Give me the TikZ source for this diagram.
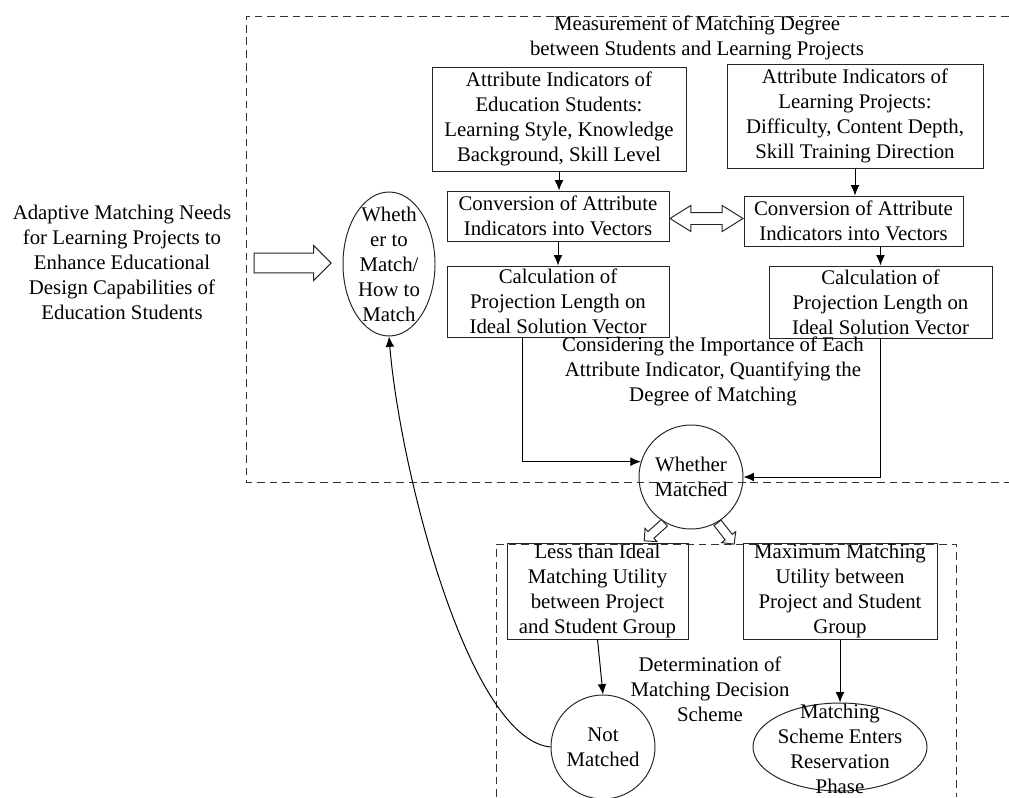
\documentclass[tikz,border=0pt]{standalone}
\usepackage{fontspec}
\setmainfont{Liberation Serif}
\usetikzlibrary{arrows.meta, calc, shapes.geometric, shapes.arrows}
\tikzset{
  txt/.style={font=\fontsize{14.8pt}{17.8pt}\selectfont, align=center, inner sep=1pt},
  box/.style={txt, draw=black!85, line width=0.7pt, inner sep=0pt},
  circ/.style={txt, circle, draw=black!85, line width=0.7pt, inner sep=0pt, minimum size=26mm},
  oval/.style={ellipse, draw=black!85, line width=0.7pt, inner sep=0pt},
  dashbox/.style={draw=black!80, line width=0.7pt, dash pattern=on 5.5pt off 3.5pt},
  arr/.style={-{Latex[length=2.6mm, width=2.2mm]}, line width=0.7pt},
  hol/.style={single arrow, draw=black!85, line width=0.7pt, inner xsep=0pt, inner ysep=2.35mm,
              single arrow head extend=1.9mm, single arrow head indent=0pt},
  holsm/.style={hol, inner ysep=1mm, single arrow head extend=1.1mm, minimum height=6.75mm},
  holdbl/.style={double arrow, draw=black!85, line width=0.7pt, inner xsep=0pt, inner ysep=1.375mm,
                 double arrow head extend=1.75mm, double arrow tip angle=64},
}

\begin{document}
\begin{tikzpicture}[x=0.25mm, y=-0.25mm]
\useasboundingbox (0,0) rectangle (1009,797);
% the two dashed areas, both running off the page
\draw[dashbox] (1009,16) -| (246,482) -- (1009,482);
\draw[dashbox] (496,797) |- (956,544) -- (956,797);
\node[txt] (ttl) at (697,38) {Measurement of Matching Degree\\between Students and Learning Projects};
% the need on the left and the question it raises
\node[txt] (needs) at (122,262) {Adaptive Matching Needs\\for Learning Projects to\\Enhance Educational\\Design Capabilities of\\Education Students};
\node[oval, minimum width=23mm, minimum height=36mm] (ask) at (389,264) {};
\node[txt] (askt) at (ask) {Wheth\\er to\\Match/\\How to\\Match};
\node[hol, minimum height=19.25mm] (feed) at ($(needs.east)!0.5!(ask.west)$) {};
% students
\node[box, minimum width=63.5mm, minimum height=26mm] (stu1) at (559,119) {Attribute Indicators of\\Education Students:\\Learning Style, Knowledge\\Background, Skill Level};
\node[box, minimum width=55.5mm, minimum height=12.5mm] (stu2) at (558,216) {Conversion of Attribute\\Indicators into Vectors};
\node[box, minimum width=55.5mm, minimum height=17.75mm] (stu3) at (558,301.5) {Calculation of\\Projection Length on\\Ideal Solution Vector};
% projects
\node[box, minimum width=64mm, minimum height=26mm] (prj1) at (855,116) {Attribute Indicators of\\Learning Projects:\\Difficulty, Content Depth,\\Skill Training Direction};
\node[box, minimum width=54.75mm, minimum height=12.5mm] (prj2) at (853.5,221) {Conversion of Attribute\\Indicators into Vectors};
\node[box, minimum width=55.75mm, minimum height=18mm] (prj3) at (880.5,302) {Calculation of\\Projection Length on\\Ideal Solution Vector};
\node[holdbl, minimum height=18.25mm] (cmp) at ($(stu2.east)!0.5!(prj2.west)$) {};
\draw[arr] (stu1.south) -- (stu1.south |- stu2.north);
\draw[arr] (stu2.south) -- (stu3.north);
\draw[arr] (prj1.south) -- (prj1.south |- prj2.north);
\draw[arr] (prj3.north |- prj2.south) -- (prj3.north);
\node[txt] (wgt) at (713,371) {Considering the Importance of Each\\Attribute Indicator, Quantifying the\\Degree of Matching};
% the decision
\node[circ] (match) at (691,477) {Whether\\Matched};
\draw[arr] ($(stu3.south west)!0.34!(stu3.south east)$) |- (match.163);
\draw[arr] (prj3.south) |- (match.east);
\node[box, minimum width=45.25mm, minimum height=24mm] (less) at (597.5,591) {Less than Ideal\\Matching Utility\\between Project\\and Student Group};
\node[box, minimum width=48.5mm, minimum height=24mm] (most) at (840,591) {Maximum Matching\\Utility between\\Project and Student\\Group};
\node[holsm, anchor=tail, rotate=222] (toless) at (match.240) {};
\node[holsm, anchor=tail, rotate=-52] (tomost) at (match.300) {};
\node[txt] (scheme) at (710,689) {Determination of\\Matching Decision\\Scheme};
\node[circ] (notm) at (603,747) {Not\\Matched};
\node[oval, minimum width=43.5mm, minimum height=22mm] (keep) at (840,747) {};
\node[txt] (keept) at (840,748.5) {Matching\\Scheme Enters\\Reservation\\Phase};
\draw[arr] (less.south) -- (notm.north);
\draw[arr] (most.south) -- (keep.north);
% back to the question
\draw[arr] (notm.west) .. controls +(-82,-8) and +(11,134) .. (ask.south);
\end{tikzpicture}
\end{document}
